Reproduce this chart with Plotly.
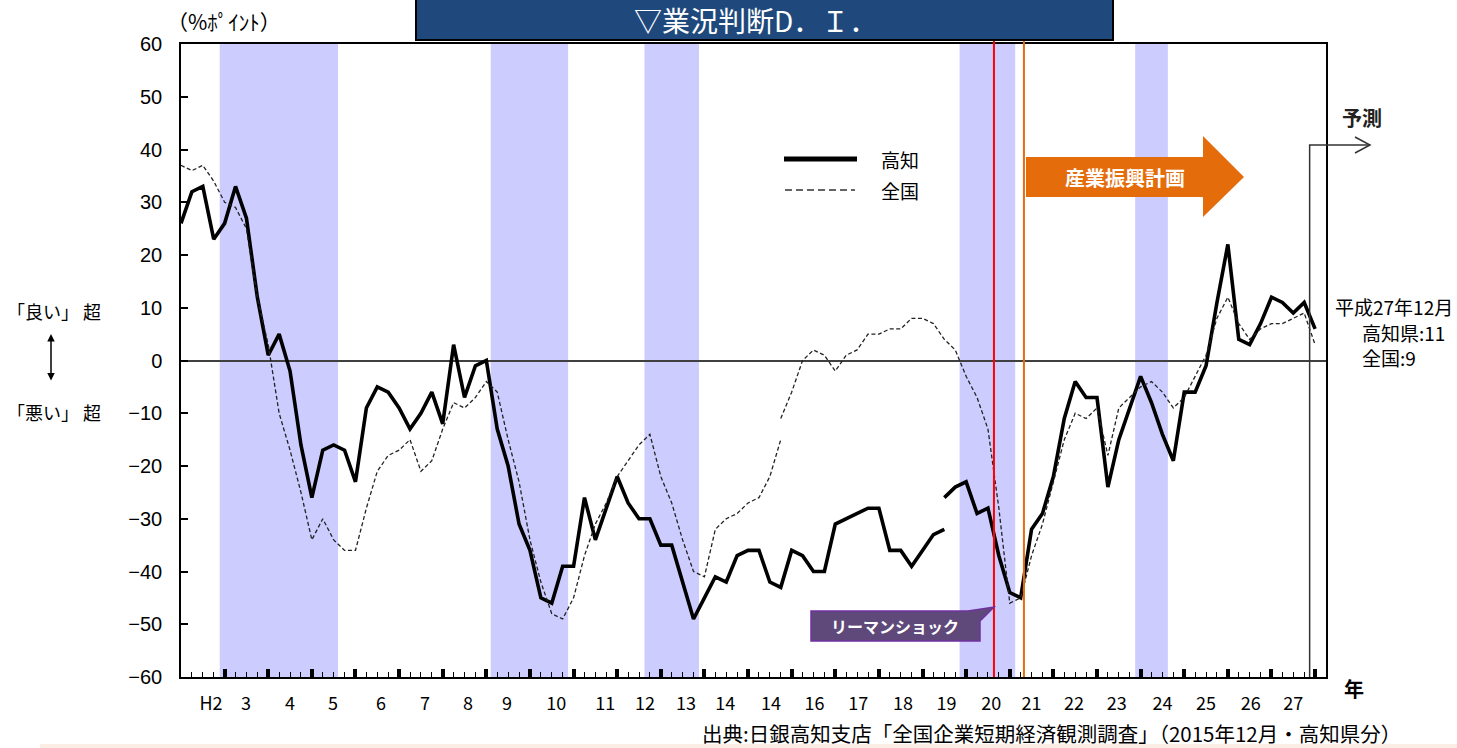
import plotly.graph_objects as go

# ---------------- data (quarterly, index 0 = 1990 Mar survey) ----------------
kochi_old = [26, 32, 33, 23, 26, 33, 27, 12, 1, 5,
             -2, -16, -26, -17, -16, -17, -23, -9, -5, -6,
             -9, -13, -10, -6, -12, 3, -7, -1, 0, -13,
             -20, -31, -36, -45, -46, -39, -39, -26, -34, -28,
             -22, -27, -30, -30, -35, -35, -42, -49, -45, -41,
             -42, -37, -36, -36, -42, -43, -36, -37, -40, -40,
             -31, -30, -29, -28, -28, -36, -36, -39, -36, -33,
             -32]
kochi_new = [-26, -24, -23, -29, -28, -37, -44, -45, -32, -29,
             -22, -11, -4, -7, -7, -24, -15, -9, -3, -8,
             -14, -19, -6, -6, -1, 11, 22, 4, 3, 7,
             12, 11, 9, 11, 6]
zenkoku_old = [37, 36, 37, 34, 30, 29, 25, 12, 3, -10,
               -17, -25, -34, -30, -34, -36, -36, -28, -21, -18,
               -17, -15, -21, -19, -13, -8, -9, -7, -4, -6,
               -15, -23, -34, -42, -48, -49, -45, -37, -31, -27,
               -22, -19, -16, -14, -22, -27, -34, -40, -41, -32,
               -30, -29, -27, -26, -22, -15]
zenkoku_new = [-11, -6, 0, 2, 1, -2, 1, 2, 5, 5,
               6, 6, 8, 8, 7, 4, 2, -3, -7, -13,
               -28, -46, -45, -37, -31, -23, -15, -10, -11, -9,
               -18, -9, -7, -5, -4, -6, -9, -7, -3, 1,
               8, 12, 7, 4, 6, 7, 7, 8, 9, 3]
kochi_break = 70      # quarter index where the Kochi series is re-based
zenkoku_break = 55    # quarter index where the national series is re-based

year_labels = ["H2", "3", "4", "5", "6", "7", "8", "9", "10", "11", "12", "13", "14",
               "14", "16", "17", "18", "19", "20", "21", "22", "23", "24", "25", "26", "27"]
year_label_pos = [2.75, 5.96, 10.0, 13.94, 18.34, 22.38, 26.32, 29.9, 34.4, 38.9, 42.55,
                  46.3, 49.9, 54.1, 58.1, 62.1, 66.2, 70.2, 74.3, 78.0, 81.9, 85.8,
                  90.0, 94.0, 98.1, 102.0]
recessions = [(3.55, 14.4), (28.4, 35.5), (42.5, 47.5), (71.4, 76.5), (87.5, 90.5)]
lehman_q = 74.55
plan_q = 77.3
forecast_q = 103.5
n_quarters = len(kochi_old) + len(kochi_new) - 1   # 105 quarters, index 0..104
latest_kochi = kochi_new[-2]
latest_zenkoku = zenkoku_new[-2]

# ---------------- layout geometry ----------------
W, H = 1457, 748
L, R, T, B = 181, 131, 44, 71
PW, PH = W - L - R, H - T - B
XMAX = n_quarters          # axis 0..105


def px(x):  # pixel -> paper x
    return (x - L) / PW


def py(y):  # pixel -> paper y
    return (H - B - y) / PH


JP = "Noto Sans CJK JP"
NUM = "Liberation Sans"

fig = go.Figure()

fig.add_trace(go.Scatter(x=list(range(0, len(kochi_old))), y=kochi_old, mode="lines",
                         line=dict(color="black", width=3.6), name="高知", hoverinfo="skip"))
fig.add_trace(go.Scatter(x=list(range(kochi_break, kochi_break + len(kochi_new))), y=kochi_new,
                         mode="lines", line=dict(color="black", width=3.6), name="高知",
                         showlegend=False))
fig.add_trace(go.Scatter(x=list(range(0, len(zenkoku_old))), y=zenkoku_old, mode="lines",
                         line=dict(color="#222222", width=1.3, dash="4px,2.5px"), name="全国"))
fig.add_trace(go.Scatter(x=list(range(zenkoku_break, zenkoku_break + len(zenkoku_new))),
                         y=zenkoku_new, mode="lines",
                         line=dict(color="#222222", width=1.3, dash="4px,2.5px"),
                         name="全国", showlegend=False))
# invisible trace for the label axis
fig.add_trace(go.Scatter(x=[0, XMAX], y=[0, 0], xaxis="x2", mode="markers",
                         marker=dict(opacity=0), hoverinfo="skip", showlegend=False))

shapes = []
for a, b in recessions:
    shapes.append(dict(type="rect", xref="x", yref="paper", x0=a, x1=b, y0=0, y1=1,
                       fillcolor="#CCCCFF", line=dict(width=0), layer="below"))
# Lehman & plan vertical lines
shapes.append(dict(type="line", xref="x", yref="paper", x0=lehman_q, x1=lehman_q, y0=0, y1=py(40),
                   line=dict(color="#FF0000", width=2)))
shapes.append(dict(type="line", xref="x", yref="paper", x0=plan_q, x1=plan_q, y0=0, y1=py(40),
                   line=dict(color="#E46C0A", width=2)))
# forecast marker
fx = forecast_q / XMAX
shapes.append(dict(type="path", xref="paper", yref="paper",
                   path=f"M {fx},0 L {fx},{py(145)} L {px(1370)},{py(145)}",
                   line=dict(color="#333333", width=1.5)))
shapes.append(dict(type="path", xref="paper", yref="paper",
                   path=f"M {px(1355)},{py(137)} L {px(1370)},{py(145)} L {px(1355)},{py(153)}",
                   line=dict(color="#333333", width=1.5)))
# title box
shapes.append(dict(type="rect", xref="paper", yref="paper", x0=px(416), x1=px(1113),
                   y0=py(40), y1=py(-20), fillcolor="#1F497D", line=dict(color="black", width=2)))
# legend samples
shapes.append(dict(type="line", xref="paper", yref="paper", x0=px(784), x1=px(857),
                   y0=py(159), y1=py(159), line=dict(color="black", width=5)))
shapes.append(dict(type="line", xref="paper", yref="paper", x0=px(785), x1=px(855),
                   y0=py(190), y1=py(190), line=dict(color="#333333", width=1.3, dash="7px,4px")))
# orange arrow
pts = [(1026, 157), (1203, 157), (1203, 136), (1244, 177), (1203, 217), (1203, 197), (1026, 197)]
shapes.append(dict(type="path", xref="paper", yref="paper",
                   path="M " + " L ".join(f"{px(a)},{py(b)}" for a, b in pts) + " Z",
                   fillcolor="#E46C0A", line=dict(width=0)))
# Lehman callout
pts = [(811, 611), (968, 611), (994, 607), (980, 621), (980, 641), (811, 641)]
shapes.append(dict(type="path", xref="paper", yref="paper",
                   path="M " + " L ".join(f"{px(a)},{py(b)}" for a, b in pts) + " Z",
                   fillcolor="#5F497A", line=dict(color="#7030A0", width=1.5)))
# bottom strip
shapes.append(dict(type="rect", xref="paper", yref="paper", x0=px(40), x1=px(1460),
                   y0=py(744), y1=py(760), fillcolor="#FCEEE4", line=dict(width=0)))

ann = []


def txt(x, y, s, size=19, color="black", xanchor="center", bold=False, family=JP):
    ann.append(dict(xref="paper", yref="paper", x=px(x), y=py(y), text=f"<b>{s}</b>" if bold else s,
                    showarrow=False, xanchor=xanchor, yanchor="middle",
                    font=dict(family=family, size=size, color=color)))


txt(756, 20, "▽業況判断D．Ｉ．", size=28, color="white")
txt(224, 21, "（%ﾎﾟｲﾝﾄ）", size=21)
txt(879, 159, "高知", size=19, xanchor="left")
txt(879, 191, "全国", size=19, xanchor="left")
txt(1125, 177, "産業振興計画", size=20, color="white", bold=True)
txt(895, 626, "リーマンショック", size=16, color="white", bold=True)
txt(1362, 118, "予測", size=20, color="#222222", bold=True)
txt(1333, 306, "平成27年12月", size=19, xanchor="left")
txt(1360, 332, f"高知県:{latest_kochi}", size=19, xanchor="left")
txt(1360, 357, f"全国:{latest_zenkoku}", size=19, xanchor="left")
txt(54, 311, "「良い」 超", size=18)
txt(54, 412, "「悪い」 超", size=18)
txt(1354, 688, "年", size=20, bold=True)
txt(700, 733, "出典:日銀高知支店「全国企業短期経済観測調査」（2015年12月・高知県分）", size=20.5,
    xanchor="left")
ann.append(dict(xref="paper", yref="paper", x=px(51), y=py(334), ax=0, ay=48, text="",
                showarrow=True, arrowhead=2, startarrowhead=2, arrowside="end+start",
                arrowsize=1, arrowwidth=1.5, arrowcolor="black"))

fig.update_layout(
    width=W, height=H, margin=dict(l=L, r=R, t=T, b=B, autoexpand=False),
    paper_bgcolor="white", plot_bgcolor="white", showlegend=False,
    shapes=shapes, annotations=ann,
    xaxis=dict(range=[0, XMAX], tickmode="array", tickvals=list(range(0, n_quarters, 4)),
               ticks="inside", ticklen=8, tickwidth=4, tickcolor="black", showticklabels=False,
               showline=True, linecolor="black", linewidth=1.5, mirror=True, showgrid=False,
               zeroline=False,
               minor=dict(ticks="inside", dtick=1, tick0=0, ticklen=5, tickwidth=1,
                          tickcolor="black", showgrid=False)),
    xaxis2=dict(range=[0, XMAX], overlaying="x", side="bottom", anchor="y", tickmode="array",
                tickvals=year_label_pos, ticktext=year_labels, ticks="", showline=False,
                showgrid=False, zeroline=False, ticklabelstandoff=14,
                tickfont=dict(family=JP, size=18, color="black")),
    yaxis=dict(range=[-60, 60], tickmode="array", tickvals=list(range(-60, 61, 10)),
               ticks="inside", ticklen=7, tickwidth=1.5, tickcolor="black",
               showline=True, linecolor="black", linewidth=1.5, mirror=True, showgrid=False,
               zeroline=True, zerolinecolor="#404040", zerolinewidth=2,
               ticklabelstandoff=13, tickfont=dict(family=NUM, size=20, color="black")),
)

fig.write_html("out.html")
